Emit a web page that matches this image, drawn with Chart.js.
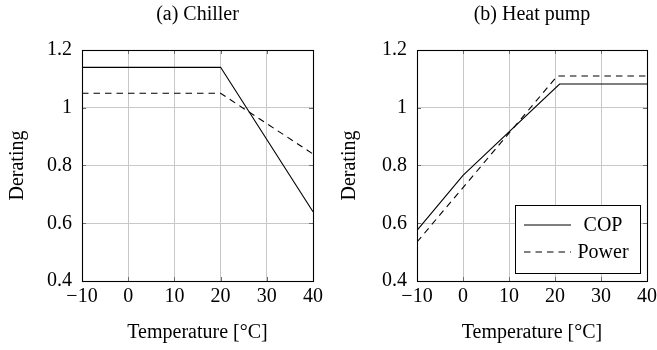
<!DOCTYPE html>
<html>
<head>
<meta charset="utf-8">
<script src="https://cdn.jsdelivr.net/npm/chart.js@4/dist/chart.umd.min.js"></script>
<style>
  html, body { margin: 0; padding: 0; background: #fff; }
  #wrap { position: relative; width: 657px; height: 350px; }
  .panel { position: absolute; top: 0; height: 350px; }
  #chiller-box { left: 0; width: 330px; }
  #heatpump-box { left: 330px; width: 327px; }
</style>
</head>
<body>
<div id="wrap">
  <div class="panel" id="chiller-box"><canvas id="chiller"></canvas></div>
  <div class="panel" id="heatpump-box"><canvas id="heatpump"></canvas></div>
</div>
<script>
// axis ticks shared by both panels
const xTicks = [-10, 0, 10, 20, 30, 40];
const yTicks = [0.4, 0.6, 0.8, 1, 1.2];

// (a) chiller derating curves
const chillerTemp = [-10, 20, 40];
const chillerCOP = [1.14, 1.14, 0.64];
const chillerPower = [1.05, 1.05, 0.84];

// (b) heat pump derating curves
const heatPumpCopTemp = [-10, 0, 21, 40];
const heatPumpCOP = [0.575, 0.766, 1.082, 1.082];
const heatPumpPowerTemp = [-10, 20.5, 40];
const heatPumpPower = [0.535, 1.11, 1.11];

const serif = "'Liberation Serif', 'Times New Roman', serif";
const dash = [6.5, 5];

function toPoints(xs, ys) {
  return xs.map((x, i) => ({ x: x, y: ys[i] }));
}

function fmtTick(v) {
  const s = String(Number(v.toFixed(2)));
  return s.replace('-', '\u2212');
}

// panel caption, centred over the plot area rather than the canvas
const panelTitle = {
  id: 'panelTitle',
  afterDraw(chart, args, opts) {
    const { ctx, chartArea: a } = chart;
    ctx.save();
    ctx.font = '20px ' + serif;
    ctx.fillStyle = '#000';
    ctx.textAlign = 'center';
    ctx.textBaseline = 'middle';
    ctx.fillText(opts.text, (a.left + a.right) / 2, 15);
    ctx.restore();
  }
};

// black frame plus short inward tick marks, pgfplots style
const frame = {
  id: 'frame',
  afterDatasetsDraw(chart) {
    const { ctx, chartArea: a, scales } = chart;
    ctx.save();
    ctx.strokeStyle = '#6e6e6e';
    ctx.lineWidth = 1;
    ctx.beginPath();
    xTicks.forEach(v => {
      const px = Math.round(scales.x.getPixelForValue(v)) + 0.5;
      ctx.moveTo(px, a.bottom); ctx.lineTo(px, a.bottom - 4);
      ctx.moveTo(px, a.top); ctx.lineTo(px, a.top + 4);
    });
    yTicks.forEach(v => {
      const py = Math.round(scales.y.getPixelForValue(v)) + 0.5;
      ctx.moveTo(a.left, py); ctx.lineTo(a.left + 4, py);
      ctx.moveTo(a.right, py); ctx.lineTo(a.right - 4, py);
    });
    ctx.stroke();
    ctx.strokeStyle = '#000';
    ctx.lineWidth = 1.1;
    ctx.strokeRect(Math.round(a.left) + 0.5, Math.round(a.top) + 0.5,
      Math.round(a.right - a.left), Math.round(a.bottom - a.top));
    ctx.restore();
  }
};

// boxed legend sitting in the lower right corner of the plot
const boxLegend = {
  id: 'boxLegend',
  afterDraw(chart, args, opts) {
    if (!opts.show) return;
    const { ctx, chartArea: a } = chart;
    const w = 125, h = 68;
    const left = a.right - 7 - w, top = a.bottom - 8 - h;
    ctx.save();
    ctx.fillStyle = '#fff';
    ctx.fillRect(left, top, w, h);
    ctx.strokeStyle = '#000';
    ctx.lineWidth = 1;
    ctx.strokeRect(Math.round(left) + 0.5, Math.round(top) + 0.5, w, h);
    ctx.font = '20px ' + serif;
    ctx.textBaseline = 'middle';
    ctx.textAlign = 'center';
    chart.data.datasets.forEach((ds, i) => {
      const y = top + 20 + i * 27;
      ctx.beginPath();
      ctx.setLineDash(ds.borderDash || []);
      ctx.strokeStyle = '#000';
      ctx.lineWidth = 1.1;
      ctx.moveTo(left + 9, y);
      ctx.lineTo(left + 56, y);
      ctx.stroke();
      ctx.setLineDash([]);
      ctx.fillStyle = '#000';
      ctx.fillText(ds.label, left + 88, y + 1);
    });
    ctx.restore();
  }
};

function makeChart(id, title, copPts, powerPts, yWidth, yTitlePad, rightPad, showLegend) {
  return new Chart(document.getElementById(id), {
    type: 'line',
    data: {
      datasets: [
        { label: 'COP', data: copPts, borderColor: '#000', borderWidth: 1.1, pointRadius: 0, tension: 0 },
        { label: 'Power', data: powerPts, borderColor: '#000', borderWidth: 1.1, borderDash: dash, pointRadius: 0, tension: 0 }
      ]
    },
    options: {
      responsive: true,
      maintainAspectRatio: false,
      animation: false,
      layout: { padding: { left: 0, right: rightPad, top: 50, bottom: 0 } },
      plugins: {
        legend: { display: false },
        tooltip: { enabled: false },
        title: { display: false },
        panelTitle: { text: title },
        boxLegend: { show: showLegend }
      },
      scales: {
        x: {
          type: 'linear',
          min: -10, max: 40,
          afterBuildTicks: s => { s.ticks = xTicks.map(v => ({ value: v })); },
          afterFit: s => { s.height = 69; s.paddingLeft = 0; s.paddingRight = 0; },
          grid: { color: '#c8c8c8', lineWidth: 1, drawTicks: false },
          border: { display: false },
          ticks: {
            color: '#000', padding: 4, maxRotation: 0,
            font: { family: serif, size: 20 },
            callback: v => fmtTick(v)
          },
          title: {
            display: true, text: 'Temperature [\u00b0C]', color: '#000',
            font: { family: serif, size: 20 },
            padding: { top: 0, bottom: 5 }
          }
        },
        y: {
          type: 'linear',
          min: 0.4, max: 1.2,
          afterBuildTicks: s => { s.ticks = yTicks.map(v => ({ value: v })); },
          afterFit: s => { s.width = yWidth; s.paddingTop = 0; s.paddingBottom = 0; },
          grid: { color: '#c8c8c8', lineWidth: 1, drawTicks: false },
          border: { display: false },
          ticks: {
            color: '#000', padding: 10,
            font: { family: serif, size: 20 },
            callback: v => fmtTick(v)
          },
          title: {
            display: true, text: 'Derating', color: '#000',
            font: { family: serif, size: 20 },
            padding: { top: yTitlePad, bottom: 0 }
          }
        }
      }
    },
    plugins: [panelTitle, frame, boxLegend]
  });
}

makeChart('chiller', '(a) Chiller',
  toPoints(chillerTemp, chillerCOP), toPoints(chillerTemp, chillerPower),
  82, 6, 17, false);
makeChart('heatpump', '(b) Heat pump',
  toPoints(heatPumpCopTemp, heatPumpCOP), toPoints(heatPumpPowerTemp, heatPumpPower),
  87, 8, 10, true);
</script>
</body>
</html>
